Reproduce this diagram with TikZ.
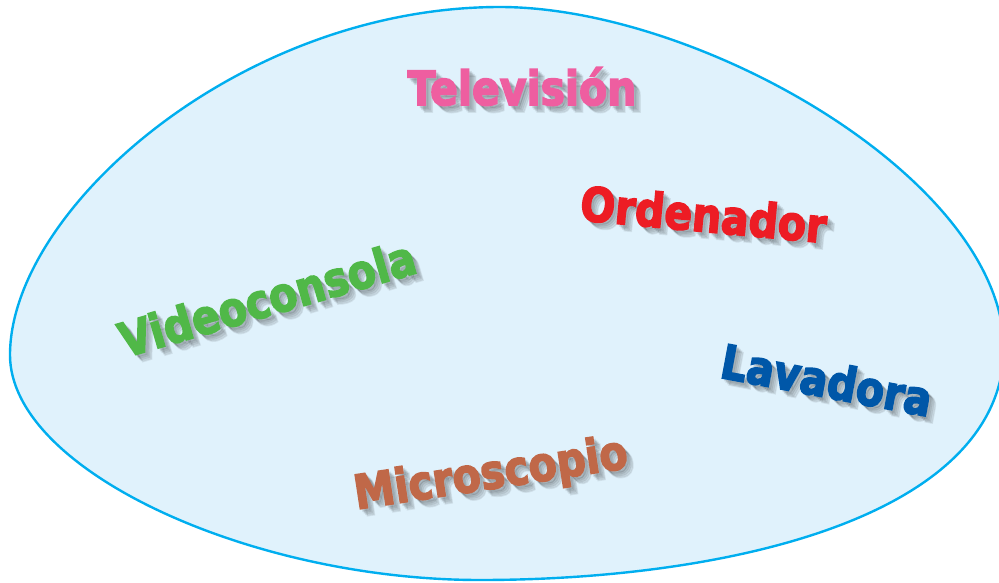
\documentclass[tikz,border=0pt]{standalone}
\usepackage{fontspec}
\newfontfamily\wordfont{DejaVu Sans}[BoldFeatures={FakeBold=3.5}]
\definecolor{blobfill}{HTML}{E0F2FC}
\definecolor{blobline}{HTML}{00AEEF}
\definecolor{cpink}{HTML}{EE5EA0}
\definecolor{cred}{HTML}{ED1C24}
\definecolor{cgreen}{HTML}{50B848}
\definecolor{cblue}{HTML}{0057A8}
\definecolor{cbrown}{HTML}{C06848}
\tikzset{
  wordtxt/.style={inner sep=0pt, anchor=base, font=\wordfont\bfseries\fontsize{41}{45}\selectfont},
  shadowtxt/.style={wordtxt, text=black, opacity=0.07},
}
\newcommand\wordshadow[4]{%
  \foreach \d in {2.5,4,5.5,7}{\node[shadowtxt, rotate=#3, yscale=1.15] at (#1+\d,#2+\d) {#4};}%
}
\begin{document}
\begin{tikzpicture}[x=1pt,y=-1pt]
\useasboundingbox (0,0) rectangle (999,582);
\begin{scope}
\clip (0,0) rectangle (999,582);
\draw[fill=blobfill, draw=blobline, line width=2.4pt]
  (10,355) .. controls (10,210) and (240,7) .. (500,7)
  .. controls (700,7) and (1004,180) .. (1004,350)
  .. controls (1000,520) and (720,580) .. (480,580)
  .. controls (250,580) and (10,470) .. cycle;
\end{scope}
\wordshadow{522}{105}{0}{Televisión}
\node[wordtxt, text=cpink, yscale=1.15] (tv) at (522,105) {Televisión};
\wordshadow{702}{231.5}{-5.3}{Ordenador}
\node[wordtxt, text=cred, rotate=-5.3, yscale=1.15] (ord) at (702,231.5) {Ordenador};
\wordshadow{272}{315}{16.2}{Videoconsola}
\node[wordtxt, text=cgreen, rotate=16.2, yscale=1.15] (vid) at (272,315) {Videoconsola};
\wordshadow{823.5}{397}{-10.6}{Lavadora}
\node[wordtxt, text=cblue, rotate=-10.6, yscale=1.15] (lav) at (823.5,397) {Lavadora};
\wordshadow{493}{488.5}{8.7}{Microscopio}
\node[wordtxt, text=cbrown, rotate=8.7, yscale=1.15] (mic) at (493,488.5) {Microscopio};
\end{tikzpicture}
\end{document}
